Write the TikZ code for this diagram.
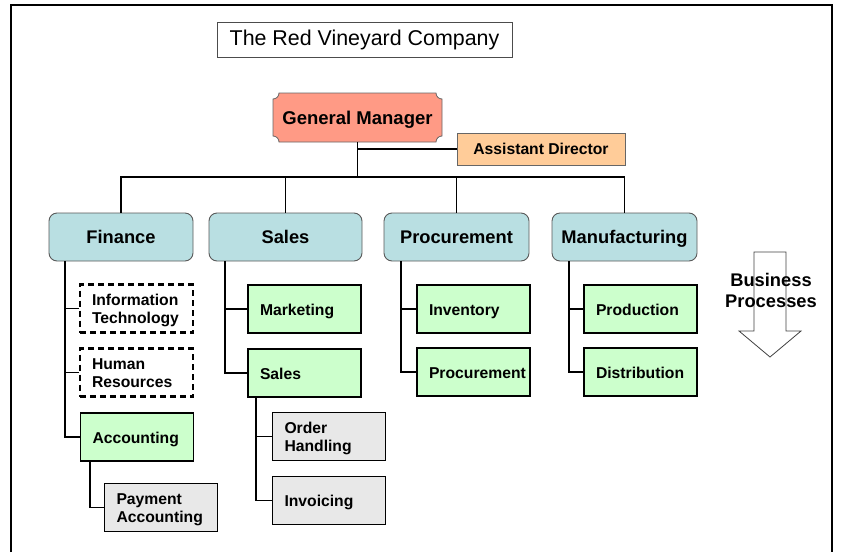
\documentclass[tikz,border=0pt]{standalone}
\usepackage{fontspec}
\setmainfont{Liberation Sans}
\definecolor{teal1}{HTML}{B9DFE2}
\definecolor{green1}{HTML}{CCFFCC}
\definecolor{gray1}{HTML}{E8E8E8}
\definecolor{salmon1}{HTML}{FF9A85}
\definecolor{orange1}{HTML}{FFCC99}
\begin{document}
\begin{tikzpicture}[x=1pt,y=-1pt,
  conn/.style={draw=black,line width=1.9pt},
  lvlone/.style={draw=black!65,fill=teal1,rounded corners=8pt,line width=0.9pt,
    minimum height=48pt,inner sep=0pt,text height=17pt,text depth=4pt,
    font=\fontsize{18.3}{21}\selectfont\bfseries},
  subbox/.style={draw=black,line width=1.4pt,minimum height=48pt,text width=89pt,
    inner xsep=12pt,inner ysep=0pt,align=left,font=\fontsize{15.7}{18.7}\selectfont\bfseries,
    execute at begin node={\rule{0pt}{16pt}},execute at end node={\rule[-4pt]{0pt}{4pt}}},
  greenbox/.style={subbox,fill=green1},
  graybox/.style={subbox,fill=gray1},
  dashbox/.style={subbox,fill=white,line width=2.4pt,dash pattern=on 6pt off 4pt},
]
\useasboundingbox (0,0) rectangle (845,552);
% frame
\draw[line width=2pt] (11,552) -- (11,5) -- (832,5) -- (832,552);

% title
\node[draw=black!70,line width=0.8pt,minimum width=295pt,minimum height=35pt,inner sep=0pt,
  font=\fontsize{21.4}{25}\selectfont] (title) at (364.5,39.5) {The Red Vineyard Company};

% general manager shape
\fill[salmon1,draw=black!60,line width=0.8pt]
  (279,93) -- (436,93) .. controls (436,96.3) and (438.7,99) .. (442,99)
  -- (442,136) .. controls (438.7,136) and (436,138.7) .. (436,142)
  -- (279,142) .. controls (279,138.7) and (276.3,136) .. (273,136)
  -- (273,99) .. controls (276.3,99) and (279,96.3) .. (279,93) -- cycle;
\node[minimum width=169pt,minimum height=49pt,inner sep=0pt,text height=17pt,text depth=4pt,
  font=\fontsize{18.5}{21}\selectfont\bfseries] (gm) at (357.5,117.5) {General Manager};

\node[draw=black!60,fill=orange1,line width=0.8pt,minimum width=168pt,minimum height=32pt,
  inner sep=0pt,text height=14.5pt,text depth=3.5pt,
  font=\fontsize{15.7}{18.7}\selectfont\bfseries] (ad) at (541,149) {Assistant Director};

% level one
\node[lvlone,minimum width=144pt] (fin) at (121,237) {Finance};
\node[lvlone,minimum width=153pt] (sal) at (285.5,237) {Sales};
\node[lvlone,minimum width=145pt] (pro) at (456.5,237) {Procurement};
\node[lvlone,minimum width=145pt] (man) at (624.5,237) {Manufacturing};

% level two
\node[dashbox] (it) at (136.5,308.5) {Information Technology};
\node[dashbox] (hr) at (136.5,372.5) {Human\\Resources};
\node[greenbox] (acc) at (137,437) {Accounting};
\node[graybox] (pay) at (161,507.5) {Payment Accounting};

\node[greenbox] (mkt) at (304.5,309) {Marketing};
\node[greenbox] (ssub) at (304.5,373) {Sales};
\node[graybox] (ord) at (329,436.5) {Order\\Handling};
\node[graybox] (inv) at (329,500.5) {Invoicing};

\node[greenbox] (invt) at (473.5,309) {Inventory};
\node[greenbox] (psub) at (473.5,372) {Procurement};

\node[greenbox] (prod) at (640.5,309) {Production};
\node[greenbox] (dist) at (640.5,372) {Distribution};

% connectors top
\draw[conn] (gm.south) -- ++(0,35) coordinate (busc);
\draw[conn] (gm.south |- ad.west) -- (ad.west);
\draw[conn] (busc) -| (fin.north);
\draw[conn] (busc) -| (sal.north);
\draw[conn] (busc) -| (pro.north);
\draw[conn] (busc) -| (man.north);

% connectors level two
\draw[conn] ([xshift=16pt]fin.south west) |- (it.west);
\draw[conn] ([xshift=16pt]fin.south west) |- (hr.west);
\draw[conn] ([xshift=16pt]fin.south west) |- (acc.west);
\draw[conn] ([xshift=10pt]acc.south west) |- (pay.west);

\draw[conn] ([xshift=16pt]sal.south west) |- (mkt.west);
\draw[conn] ([xshift=16pt]sal.south west) |- (ssub.west);
\draw[conn] ([xshift=9pt]ssub.south west) |- (ord.west);
\draw[conn] ([xshift=9pt]ssub.south west) |- (inv.west);

\draw[conn] ([xshift=17pt]pro.south west) |- (invt.west);
\draw[conn] ([xshift=17pt]pro.south west) |- (psub.west);

\draw[conn] ([xshift=17pt]man.south west) |- (prod.west);
\draw[conn] ([xshift=17pt]man.south west) |- (dist.west);

% business process arrow
\draw[draw=black!75,line width=0.8pt] (754,252) -- (786,252) -- (786,331) -- (801,331)
  -- (770,357) -- (739,331) -- (754,331) -- cycle;
\node[align=center,inner sep=0pt,font=\fontsize{18.3}{21}\selectfont\bfseries] (bp) at (771,290)
  {Business\\Processes};
\end{tikzpicture}
\end{document}
